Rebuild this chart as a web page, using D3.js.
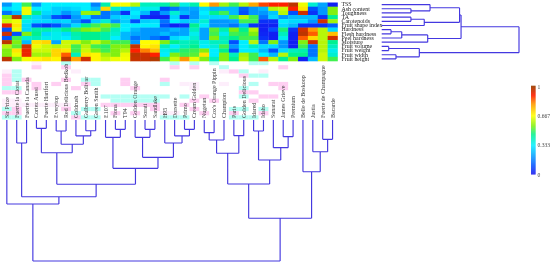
<!DOCTYPE html>
<html><head><meta charset="utf-8">
<script src="https://cdn.jsdelivr.net/npm/d3@7"></script>
<style>html,body{margin:0;padding:0;background:#fff}svg{display:block;filter:blur(.3px)}</style>
</head><body><div id="c"></div>
<script>
const traits=["TSS","Ash content","Toughness","TA","Carotenoids","Fruit shape index","Hardness","Flesh hardness","Peel hardness","Moisture","Fruit volume","Fruit weight","Fruit width","Fruit height"];
const cultivars=["Sir Prize","Fuerte la Ciotat","Fuerte la Canada","Cortez Aussi","Fuerte Hartfort","Everytop","Red Delicious Bedkob","Goldrush","Gulberry Bolivar","Green Smith","E107","Fiona","T94","Golden Orange","Sorati","Sandlake","H95","Dorsette","Primo","Cream Golden","Nugetan","Cox's Orange Pippin","Champion","Paris","Golden Delicious","Idared","Idaho","Sunarat","James Grieve","Premium","Belle de Boskoop","Justia","Fuerte de Champagne","Bacarde"];
const heat=[
[.2,.33,.5,.2,.33,.33,.33,.33,.33,.17,.42,.66,.66,.6,.4,.4,.42,.5,.36,.42,.67,.8,.58,.5,.6,.78,.87,.9,.9,.97,.65,.38,.22,.02],
[.3,.33,.65,.33,.33,.28,.28,.3,.33,.25,.72,.38,.3,.3,.35,.35,.1,.15,.22,.22,.3,.25,.25,.25,.12,.2,.25,.6,.62,.9,.7,.1,.2,.55],
[.15,.25,.65,.45,.3,.28,.2,.25,.57,.57,.15,.2,.05,.33,.25,.05,.2,.38,.25,.2,.33,.45,.5,.25,.1,.2,.2,.27,.6,.1,.95,.05,.2,.55],
[.56,.97,.4,.3,.25,.1,.05,.2,.3,.15,.15,.28,.3,.3,.05,.02,.02,.3,.05,.2,.3,.3,.3,.5,.6,.5,.15,.3,.2,.25,.25,.25,.05,.45],
[.62,.65,.35,.3,.3,.28,.3,.2,.1,.28,.38,.2,.28,.1,.28,.3,.15,.33,.28,.28,.38,.2,.2,.22,.5,.5,.05,.05,.33,.3,.3,.2,.95,.58],
[.92,.7,.3,.1,.05,.1,.2,.3,.45,.5,.55,.5,.33,.33,.33,.33,.1,.02,.05,.45,.33,.2,.2,.15,.25,.05,.02,.02,.3,.25,.05,.05,.05,.12],
[.1,.65,.3,.42,.42,.38,.45,.5,.55,.57,.5,.4,.33,.25,.2,.2,.2,.25,.22,.4,.22,.52,.42,.55,.45,.6,.02,.1,.47,.05,.95,.8,.6,.3],
[.95,.1,.55,.45,.3,.35,.3,.42,.45,.45,.42,.38,.25,.22,.2,.2,.25,.2,.22,.35,.22,.5,.35,.5,.48,.55,.03,.02,.4,.02,.97,.85,.6,.75],
[.1,.5,.38,.4,.35,.35,.33,.4,.45,.45,.42,.33,.25,.15,.2,.15,.1,.3,.33,.38,.22,.55,.4,.45,.5,.5,.05,.02,.35,.02,.85,.72,.6,.95],
[.97,.55,.25,.7,.72,.22,.62,.62,.55,.62,.55,.5,.5,.2,.67,.67,.55,.45,.4,.42,.35,.4,.4,.1,.33,.6,.15,.55,.2,.02,.55,.95,.6,.45],
[.6,.52,.95,.65,.62,.6,.62,.5,.6,.5,.48,.55,.55,.96,.68,.7,.4,.33,.4,.45,.33,.37,.5,.2,.33,.4,.3,.3,.2,.02,.5,.15,.6,.4],
[.55,.7,.92,.62,.62,.72,.7,.5,.62,.55,.5,.55,.6,.9,.82,.75,.35,.4,.48,.5,.55,.33,.45,.1,.33,.33,.25,.1,.3,.4,.42,.15,.6,.35],
[.55,.65,.92,.58,.58,.72,.85,.4,.7,.68,.58,.55,.65,.97,.95,.9,.33,.55,.5,.52,.7,.33,.55,.4,.58,.5,.33,.25,.6,.45,.45,.15,.62,.38],
[.97,.55,.66,.68,.7,.68,.97,.78,.95,.68,.62,.65,.66,.96,.96,.98,.5,.62,.8,.65,.55,.4,.55,.45,.6,.5,.85,.6,.45,.55,.02,.25,.62,.5]];
const ghost=[
"...l..c..........c.c.c...cc.......",
"...p..p..........p.p..c.....p.....",
"lc.....l..............lpc.l.......",
"pc......................pcc.......",
"pcp...p.cc..p...p................",
"p..p.p..pc..p...c.ll..l..c.pp.....",
"cc.p...p.....p.....l....c...p.....",
"pp......................pp.......",
"..........ccccccc.c.p...c.pp.......",
"ll.........ccccc...p.p...p.........",
"lllllll...pppppp..p................",
"cp....p.cc.....p...p...cc.c.......",
"pp.....c...p.p..ll..p..p..p.......",
"cc.....pcc......ccc....ccc........"];
const legendTicks=[0,.333,.667,1];
const colorStops=[0,.1,.2,.33,.45,.55,.667,.8,.9,1];
const colorVals=["#1414f0","#0050ff","#0098ff","#00eeff","#00f090","#80f010","#ffff00","#ff9800","#ff2000","#a04000"];
const sampleTree=[100,[59.6,0,[54.4,[16.3,1,2],[45.6,[23.2,[5.9,3,4],[17.2,[7.8,5,6],[11.3,7,[7.6,8,9]]]],[34.3,[12.3,10,[6.6,11,12]],[26.5,[12.3,13,[6.6,14,15]],[16.3,16,[11.3,17,[6.6,18,19]]]]]]]],[69.7,[45.4,[23.6,[14.2,[9,20,21],22],[11.1,23,24]],[28.4,[7.8,25,26],[19.6,27,[11.8,28,29]]]],[36.7,30,[22.5,31,[13.7,32,33]]]]];
const traitTree=[100,[57.8,[56.7,[35.2,0,[21.3,1,2]],[31,[21.3,3,4],5]],[33.5,[14.6,[6.8,6,7],8],9]],[27.4,[5.1,10,11],[10.4,12,13]]];

const W=550,H=265;
const svg=d3.select("#c").append("svg").attr("width",W).attr("height",H);
const x=d3.scaleBand().domain(d3.range(cultivars.length)).range([1.9,337.5]);
const y=d3.scaleBand().domain(d3.range(traits.length)).range([2.5,61]);
const color=d3.scaleLinear().domain(colorStops).range(colorVals).clamp(true);
const gy=d3.scaleBand().domain(d3.range(ghost.length)).range([61,119.5]);
const ghostCol={p:"#ffcff2",c:"#b4fff4",l:"#fdeefb"};

ghost.forEach((s,r)=>{svg.append("g").selectAll("rect").data(s.split("").slice(0,34).map((k,i)=>({k,i})).filter(d=>d.k!=="."))
 .join("rect").attr("x",d=>x(d.i)).attr("y",gy(r)).attr("width",x.bandwidth()).attr("height",gy.bandwidth()).attr("fill",d=>ghostCol[d.k]);});
heat.forEach((row,r)=>{svg.append("g").selectAll("rect").data(row).join("rect")
 .attr("x",(d,i)=>x(i)).attr("y",y(r)).attr("width",x.bandwidth()+.3).attr("height",y.bandwidth()+.3).attr("fill",d=>color(d));});

const lineCol="#4438e0";
function links(tree,place){
 const root=d3.hierarchy(tree,d=>Array.isArray(d)?d.slice(1):null);
 root.eachAfter(n=>{
  if(n.children){n.pos=d3.mean(n.children,c=>c.pos);n.h=n.data[0];}
  else{n.pos=place.pos(n.data);n.h=0;}
 });
 const p=d3.path();
 root.each(n=>{ if(n.children){
   const [a,b]=n.children;
   place.seg(p,a.pos,a.h,a.pos,n.h);place.seg(p,a.pos,n.h,b.pos,n.h);place.seg(p,b.pos,n.h,b.pos,b.h);
 }});
 return p.toString();
}
const vy=d3.scaleLinear().domain([0,100]).range([120,261]);
svg.append("path").attr("fill","none").attr("stroke",lineCol).attr("stroke-width",1.15)
 .attr("d",links(sampleTree,{pos:i=>x(i)+x.bandwidth()/2,seg:(p,a,h,b,k)=>{p.moveTo(a,vy(h));p.lineTo(b,vy(k));}}));
const hx=d3.scaleLinear().domain([0,100]).range([381.7,519]);
svg.append("path").attr("fill","none").attr("stroke",lineCol).attr("stroke-width",1.15)
 .attr("d",links(traitTree,{pos:i=>y(i)+y.bandwidth()/2,seg:(p,a,h,b,k)=>{p.moveTo(hx(h),a);p.lineTo(hx(k),b);}}));

const serif="'Liberation Serif','DejaVu Serif',serif";
svg.append("g").selectAll("text").data(cultivars).join("text")
 .attr("transform",(d,i)=>`translate(${x(i)+x.bandwidth()/2+2},118) rotate(-90)`)
 .attr("font-family",serif).attr("font-size",6).attr("fill","#3a3a3a").text(d=>d);
svg.append("g").selectAll("text").data(traits).join("text")
 .attr("x",341.5).attr("y",(d,i)=>y(i)+y.bandwidth()/2+1.8)
 .attr("font-family",serif).attr("font-size",5.9).attr("fill","#222").text(d=>d);

const by=d3.scaleLinear().domain([0,1]).range([174.3,86.7]);
svg.append("g").selectAll("rect").data(d3.range(0,1.0001,1/88)).join("rect")
 .attr("x",531).attr("width",4.6).attr("y",d=>by(d)-1).attr("height",1.2).attr("fill",d=>color(d));
const ax=svg.append("g").attr("transform","translate(536,0)").call(d3.axisRight(by).tickValues(legendTicks).tickSize(0).tickPadding(1.5).tickFormat(d=>String(d)));
ax.select(".domain").remove();
ax.selectAll("text").attr("font-family",serif).attr("font-size",5.6).attr("fill","#444");
</script></body></html>
